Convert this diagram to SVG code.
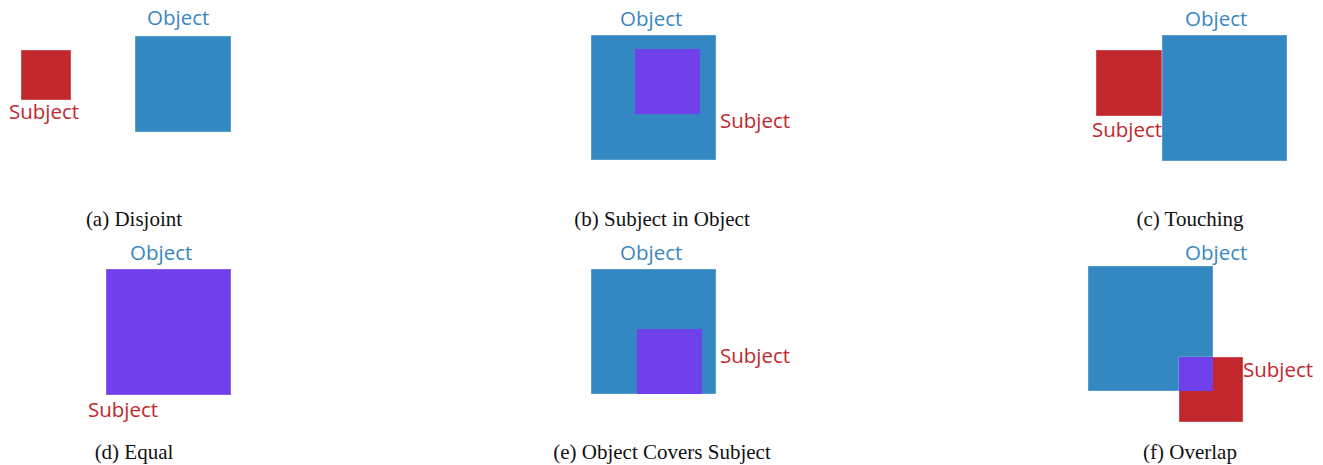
<svg xmlns="http://www.w3.org/2000/svg" width="1323" height="465" viewBox="0 0 1323 465">
  <style>
    .subj { fill: #C1272D; }
    .obj { fill: #3388C2; }
    .both { fill: #7041EA; }
    .box { stroke: #ffffff; stroke-opacity: 0.35; stroke-width: 1; }
    .lbl { font-family: "Open Sans", "Noto Sans", sans-serif; font-size: 20.5px; }
    .lbl-obj { fill: #3A87BF; }
    .lbl-subj { fill: #C1272D; }
    .cap { font-family: "Liberation Serif", "Times New Roman", serif; font-size: 21px; fill: #111111; text-anchor: middle; }
  </style>
  <rect width="1323" height="465" fill="#ffffff"/>

  <!-- (a) Disjoint -->
  <g id="disjoint">
    <rect class="subj box" x="21" y="50" width="50" height="50"/>
    <rect class="obj box" x="135" y="36" width="96" height="96"/>
    <text class="lbl lbl-obj" x="147" y="25">Object</text>
    <text class="lbl lbl-subj" x="9" y="119">Subject</text>
    <text class="cap" x="134" y="226">(a) Disjoint</text>
  </g>

  <!-- (b) Subject in Object -->
  <g id="subject-in-object">
    <rect class="obj box" x="591" y="35" width="125" height="125"/>
    <rect class="both" x="635" y="49" width="65" height="65"/>
    <text class="lbl lbl-obj" x="620" y="26">Object</text>
    <text class="lbl lbl-subj" x="720" y="128">Subject</text>
    <text class="cap" x="662" y="226">(b) Subject in Object</text>
  </g>

  <!-- (c) Touching -->
  <g id="touching">
    <rect class="subj box" x="1096" y="50" width="66" height="66"/>
    <rect class="obj box" x="1162" y="35" width="125" height="126"/>
    <text class="lbl lbl-obj" x="1185" y="26">Object</text>
    <text class="lbl lbl-subj" x="1092" y="137">Subject</text>
    <text class="cap" x="1190" y="226">(c) Touching</text>
  </g>

  <!-- (d) Equal -->
  <g id="equal">
    <rect class="both box" x="106" y="269" width="125" height="126"/>
    <text class="lbl lbl-obj" x="130" y="260">Object</text>
    <text class="lbl lbl-subj" x="88" y="417">Subject</text>
    <text class="cap" x="134" y="459">(d) Equal</text>
  </g>

  <!-- (e) Object Covers Subject -->
  <g id="object-covers-subject">
    <rect class="obj box" x="591" y="269" width="125" height="125"/>
    <rect class="both" x="637" y="329" width="65" height="65"/>
    <text class="lbl lbl-obj" x="620" y="260">Object</text>
    <text class="lbl lbl-subj" x="720" y="363">Subject</text>
    <text class="cap" x="662" y="459">(e) Object Covers Subject</text>
  </g>

  <!-- (f) Overlap -->
  <g id="overlap">
    <rect class="obj box" x="1088" y="266" width="125" height="125"/>
    <rect class="subj box" x="1179" y="357" width="64" height="65"/>
    <rect class="both" x="1179" y="357" width="34" height="34"/>
    <text class="lbl lbl-obj" x="1185" y="260">Object</text>
    <text class="lbl lbl-subj" x="1243" y="377">Subject</text>
    <text class="cap" x="1190" y="459">(f) Overlap</text>
  </g>

  <g id="connectors"/>
</svg>
